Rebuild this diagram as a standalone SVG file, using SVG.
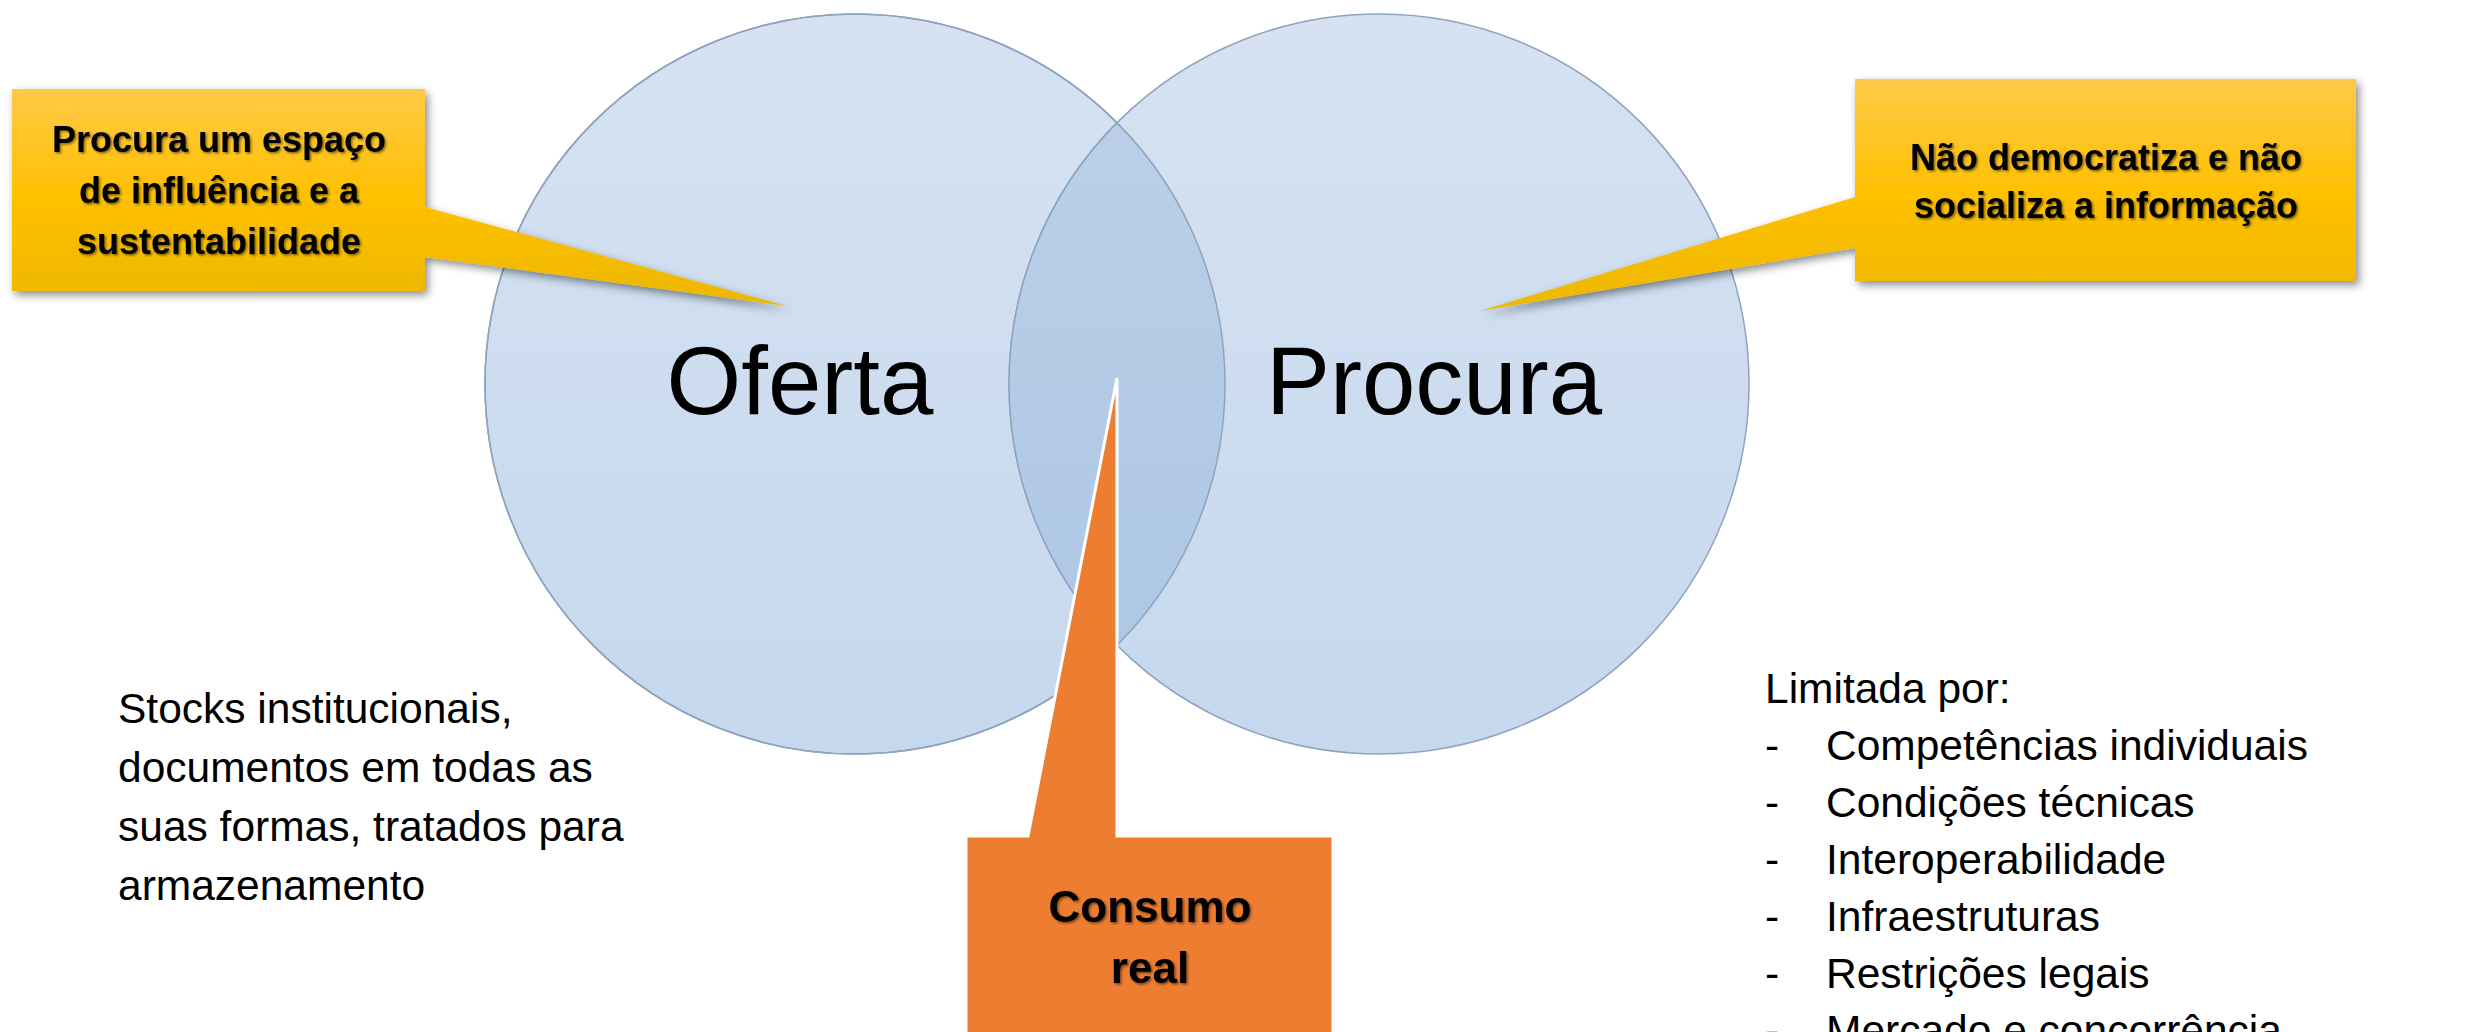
<svg xmlns="http://www.w3.org/2000/svg" width="2491" height="1032" viewBox="0 0 2491 1032">
<style>
.big{font-family:"Liberation Sans",Arial,sans-serif;font-size:96px;fill:#000;text-anchor:middle}
.lbl{font-family:"Liberation Sans",Arial,sans-serif;font-weight:bold;font-size:36px;fill:#000;text-anchor:middle}
.lblo{font-family:"Liberation Sans",Arial,sans-serif;font-weight:bold;font-size:44px;fill:#000;text-anchor:middle}
.body{font-family:"Liberation Sans",Arial,sans-serif;font-size:42.5px;fill:#000}
.circ{fill:url(#gC);stroke:#8FA3BC;stroke-width:1.5}
</style>
<defs>
<linearGradient id="gC" x1="0" y1="0" x2="0" y2="1">
<stop offset="0" stop-color="#D6E2F1"/><stop offset="1" stop-color="#C5D8EE"/>
</linearGradient>
<linearGradient id="gL" x1="0" y1="0" x2="0" y2="1">
<stop offset="0" stop-color="#BDD0E8"/><stop offset="1" stop-color="#ABC6E5"/>
</linearGradient>
<linearGradient id="gY" gradientUnits="objectBoundingBox" x1="0" y1="0" x2="0" y2="1">
<stop offset="0" stop-color="#FFCA48"/><stop offset="0.5" stop-color="#FFC000"/><stop offset="1" stop-color="#ECB800"/>
</linearGradient>
<clipPath id="clipL"><circle cx="855" cy="384" r="370"/></clipPath>
<filter id="sh" x="-10%" y="-10%" width="130%" height="140%">
<feDropShadow dx="3" dy="4" stdDeviation="4" flood-color="#000" flood-opacity="0.45"/>
</filter>
<filter id="tsh" x="-5%" y="-20%" width="110%" height="150%">
<feDropShadow dx="1.5" dy="1.5" stdDeviation="1.2" flood-color="#000" flood-opacity="0.5"/>
</filter>
</defs>
<rect width="2491" height="1032" fill="#FFFFFF"/>
<g id="oferta">
<circle class="circ" cx="855" cy="384" r="370"/>
</g>
<g id="procura">
<circle class="circ" cx="1379" cy="384" r="370"/>
<circle cx="1379" cy="384" r="370" fill="url(#gL)" stroke="#8FA3BC" stroke-width="1.5" clip-path="url(#clipL)"/>
<circle cx="855" cy="384" r="370" fill="none" stroke="#8FA3BC" stroke-width="1.5"/>
<text class="big" x="800" y="414">Oferta</text>
<text class="big" x="1434" y="414">Procura</text>
</g>
<g id="connectors"></g>
<g id="callout-left">
<path d="M12,89 H425 V207 L787,306 L425,257 V291 H12 Z" fill="url(#gY)" filter="url(#sh)"/>
<g filter="url(#tsh)">
<text class="lbl" x="219" y="152">Procura um espaço</text>
<text class="lbl" x="219" y="203">de influência e a</text>
<text class="lbl" x="219" y="254">sustentabilidade</text>
</g>
</g>
<g id="callout-right">
<path d="M1855,79 H2356 V281 H1855 V248 L1480,311 L1855,197 Z" fill="url(#gY)" filter="url(#sh)"/>
<g filter="url(#tsh)">
<text class="lbl" x="2106" y="170">Não democratiza e não</text>
<text class="lbl" x="2106" y="218">socializa a informação</text>
</g>
</g>
<g id="callout-consumo">
<path d="M966,836 H1028 L1117,378 V836 H1333 V1045 H966 Z" fill="#ED7D31" stroke="#FFFFFF" stroke-width="3"/>
<g filter="url(#tsh)">
<text class="lblo" x="1150" y="922">Consumo</text>
<text class="lblo" x="1150" y="983">real</text>
</g>
</g>
<g id="text-oferta">
<text class="body" x="118" y="723">Stocks institucionais,</text>
<text class="body" x="118" y="782">documentos em todas as</text>
<text class="body" x="118" y="841">suas formas, tratados para</text>
<text class="body" x="118" y="900">armazenamento</text>
</g>
<g id="text-procura">
<text class="body" x="1765" y="703">Limitada por:</text>
<text class="body" x="1765" y="760">-</text><text class="body" x="1826" y="760">Competências individuais</text>
<text class="body" x="1765" y="817">-</text><text class="body" x="1826" y="817">Condições técnicas</text>
<text class="body" x="1765" y="874">-</text><text class="body" x="1826" y="874">Interoperabilidade</text>
<text class="body" x="1765" y="931">-</text><text class="body" x="1826" y="931">Infraestruturas</text>
<text class="body" x="1765" y="988">-</text><text class="body" x="1826" y="988">Restrições legais</text>
<text class="body" x="1765" y="1045">-</text><text class="body" x="1826" y="1045">Mercado e concorrência</text>
</g>
</svg>
